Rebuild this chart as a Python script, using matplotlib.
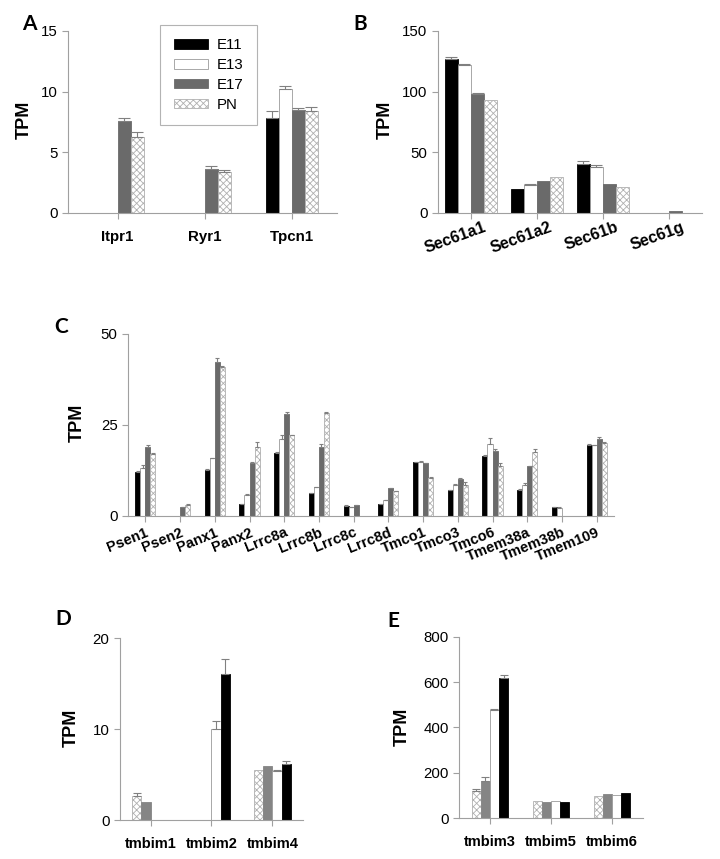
import numpy as np
import matplotlib
matplotlib.use("Agg")
import matplotlib.pyplot as plt
import matplotlib.transforms as mtrans

plt.rcParams['font.family'] = ['Liberation Sans', 'DejaVu Sans']
plt.rcParams['hatch.linewidth'] = 0.6

W, H = 720, 859
fig = plt.figure(figsize=(W / 100, H / 100), dpi=100)

stages = ["E11", "E13", "E17", "PN"]

# Panel A
a_genes = ["Itpr1", "Ryr1", "Tpcn1"]
a_vals = {"E11": [0, 0, 7.8], "E13": [0, 0, 10.2], "E17": [7.6, 3.6, 8.5], "PN": [6.3, 3.4, 8.4]}
a_err = {"E11": [0, 0, 0.6], "E13": [0, 0, 0.3], "E17": [0.25, 0.25, 0.15], "PN": [0.4, 0.15, 0.3]}

# Panel B
b_genes = ["Sec61a1", "Sec61a2", "Sec61b", "Sec61g"]
b_vals = {"E11": [127, 20, 40, 0], "E13": [122, 23, 38, 0], "E17": [98, 26, 24, 2], "PN": [93, 30, 21.5, 0]}
b_err = {"E11": [1.5, 0, 2.5, 0], "E13": [0.5, 0.5, 1.5, 0], "E17": [0.5, 0, 0, 0], "PN": [0, 0, 0, 0]}

# Panel C
c_genes = ["Psen1", "Psen2", "Panx1", "Panx2", "Lrrc8a", "Lrrc8b", "Lrrc8c", "Lrrc8d",
           "Tmco1", "Tmco3", "Tmco6", "Tmem38a", "Tmem38b", "Tmem109"]
c_vals = {
    "E11": [12.1, 0, 12.5, 3.1, 17.2, 6.1, 2.8, 3.1, 14.7, 7.0, 16.5, 7.1, 2.4, 19.4],
    "E13": [13.2, 0, 15.8, 5.7, 21.0, 7.9, 2.4, 4.3, 14.7, 8.3, 19.6, 8.4, 2.2, 19.4],
    "E17": [19.0, 2.3, 42.1, 14.5, 28.0, 18.8, 2.9, 7.5, 14.5, 10.2, 17.8, 13.6, 0, 21.1],
    "PN":  [16.9, 2.9, 40.9, 18.8, 22.2, 28.1, 0, 6.8, 10.3, 8.4, 13.6, 17.4, 0, 19.9],
}
c_err = {
    "E11": [0.2, 0, 0.2, 0.1, 0.4, 0.1, 0.1, 0.1, 0.1, 0.1, 0.1, 0.2, 0.1, 0.3],
    "E13": [0.6, 0, 0.1, 0.2, 1.3, 0.1, 0.1, 0.1, 0.2, 0.4, 1.7, 0.6, 0.1, 0.1],
    "E17": [0.3, 0.1, 1.3, 0.2, 0.6, 0.8, 0.1, 0.1, 0.1, 0.1, 0.5, 0.1, 0, 0.5],
    "PN":  [0.2, 0.2, 0.1, 1.4, 0.1, 0.5, 0, 0.1, 0.2, 0.8, 0.8, 0.8, 0, 0.4],
}

# Panels D and E (order reversed: PN, E17, E13, E11)
de_order = ["PN", "E17", "E13", "E11"]
d_genes = ["tmbim1", "tmbim2", "tmbim4"]
d_vals = {"PN": [2.64, 0, 5.5], "E17": [2.0, 0, 5.9], "E13": [0, 10.0, 5.4], "E11": [0, 16.1, 6.2]}
d_err = {"PN": [0.3, 0, 0], "E17": [0, 0, 0], "E13": [0, 0.9, 0.1], "E11": [0, 1.6, 0.3]}

e_genes = ["tmbim3", "tmbim5", "tmbim6"]
e_vals = {"PN": [120, 76, 98], "E17": [163, 71, 104], "E13": [476, 73, 103], "E11": [619, 72, 110]}
e_err = {"PN": [8, 0, 0], "E17": [19, 0, 0], "E13": [7, 0, 0], "E11": [14, 0, 0]}

EDGE = '#9a9a9a'
SPINE = '#a0a0a0'


def style(stage, dark17):
    if stage == "E11":
        return dict(color='black', edgecolor='black', hatch=None)
    if stage == "E13":
        return dict(color='white', edgecolor=EDGE, hatch=None)
    if stage == "E17":
        c = '#6a6a6a' if dark17 else '#858585'
        return dict(color=c, edgecolor=c, hatch=None)
    return dict(color='white', edgecolor='#b0b0b0', hatch='xxxxx')


def axes_px(l, r, b, t):
    return fig.add_axes([l / W, 1 - b / H, (r - l) / W, (b - t) / H])


def draw(ax, genes, vals, errs, order, ylim, yticks, xlim, width, spacing_px, dark17=True):
    x = np.arange(len(genes))
    n = len(order)
    cap = width * spacing_px * 0.5 * 0.72 * 0.9
    for i, s in enumerate(order):
        st = style(s, dark17)
        pos = x + (i - (n - 1) / 2) * width
        ax.bar(pos, vals[s], width, color=st['color'], edgecolor=st['edgecolor'],
               hatch=st['hatch'], linewidth=0.6, label=s, zorder=2)
        e = np.array(errs[s], dtype=float)
        v = np.array(vals[s], dtype=float)
        m = e > 0
        if m.any():
            ax.errorbar(pos[m], v[m], yerr=[np.zeros(m.sum()), e[m]], fmt='none',
                        ecolor='#808080', elinewidth=0.8, capsize=cap, capthick=0.8, zorder=3)
    ax.set_xlim(*xlim)
    ax.set_ylim(*ylim)
    ax.set_yticks(yticks)
    ax.set_xticks(x)
    for sp in ['top', 'right']:
        ax.spines[sp].set_visible(False)
    for sp in ['left', 'bottom']:
        ax.spines[sp].set_color(SPINE)
        ax.spines[sp].set_linewidth(0.8)
    ax.tick_params(axis='both', colors=SPINE, length=4, width=0.8, labelcolor='black', labelsize=10.8)
    return x


# A
axA = axes_px(68, 337, 213, 31)
draw(axA, a_genes, a_vals, a_err, stages, (0, 15), [0, 5, 10, 15], (-0.57, 2.52), 0.15, 87)
axA.set_xticklabels(a_genes, fontweight='bold', fontsize=10.8)
axA.tick_params(axis='x', pad=8)
leg = axA.legend(loc='upper left', bbox_to_anchor=((160 - 68) / 269, 1 + 6 / 182), fontsize=10.8,
                 frameon=True, fancybox=False, edgecolor='#a0a0a0', handlelength=2.3,
                 handleheight=0.6, labelspacing=0.38, borderpad=0.9, handletextpad=0.6, borderaxespad=0)
leg.get_frame().set_linewidth(0.8)

# B
axB = axes_px(438, 702, 213, 31)
draw(axB, b_genes, b_vals, b_err, stages, (0, 150), [0, 50, 100, 150], (-0.5, 3.5), 0.2, 66)
axB.set_xticklabels(b_genes, fontweight='bold', fontsize=11.5, rotation=20, ha='right',
                    rotation_mode='anchor')
axB.tick_params(axis='x', pad=1)
offB = mtrans.ScaledTranslation(0.12, 0, fig.dpi_scale_trans)
for t in axB.get_xticklabels():
    t.set_transform(t.get_transform() + offB)

# C
axC = axes_px(128, 614, 515.7, 333.7)
draw(axC, c_genes, c_vals, c_err, stages, (0, 50), [0, 25, 50], (-0.5, 13.5), 0.145, 34.7)
axC.set_xticklabels(c_genes, fontweight='bold', fontsize=10.5, rotation=22, ha='right',
                    rotation_mode='anchor')
axC.tick_params(axis='x', pad=3)

# D
axD = axes_px(120, 303, 820, 638.3)
draw(axD, d_genes, d_vals, d_err, de_order, (0, 20), [0, 10, 20], (-0.5, 2.5), 0.15, 61,
     dark17=False)
axD.set_xticklabels(d_genes, fontweight='bold', fontsize=10.5)
axD.tick_params(axis='x', pad=8)

# E
axE = axes_px(459.3, 642.7, 818, 636.7)
draw(axE, e_genes, e_vals, e_err, de_order, (0, 800), [0, 200, 400, 600, 800], (-0.5, 2.5), 0.15, 61,
     dark17=False)
axE.set_xticklabels(e_genes, fontweight='bold', fontsize=10.5)
axE.tick_params(axis='x', pad=8)

# TPM labels
for (px, py) in [(24, 120), (385, 120), (77, 423), (71, 728), (402, 727)]:
    fig.text(px / W, 1 - py / H, 'TPM', rotation=90, ha='center', va='center',
             fontsize=13, fontweight='bold')

# Panel letters
for lab, px, py in [('A', 22, 14), ('B', 353, 14), ('C', 54, 317), ('D', 55, 609), ('E', 387, 611)]:
    fig.text(px / W, 1 - py / H, lab, ha='left', va='top', fontsize=15, fontweight='bold',
             family=['Lato', 'DejaVu Sans'])

fig.savefig('out.png', dpi=100)
